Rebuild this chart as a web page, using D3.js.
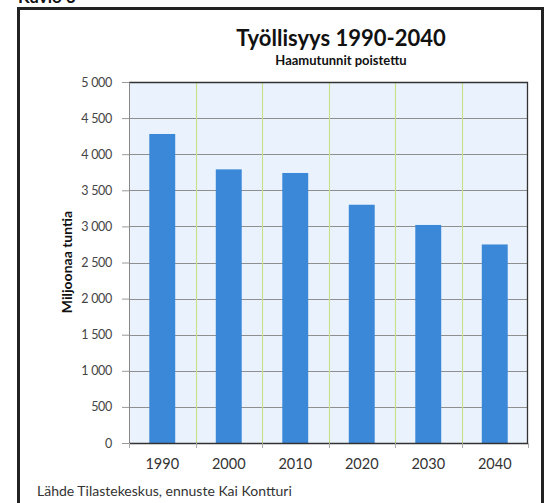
<!DOCTYPE html>
<html><head><meta charset="utf-8">
<script src="https://cdn.jsdelivr.net/npm/d3@7"></script>
<style>html,body{margin:0;padding:0;background:#fff;}svg{display:block;font-family:Lato,"Open Sans","Liberation Sans",sans-serif;}</style>
</head><body>
<svg id="c" width="556" height="503"></svg>
<script>
const categories = ["1990","2000","2010","2020","2030","2040"];
const values = [4280, 3790, 3740, 3300, 3020, 2750];
const yTicks = [0,500,1000,1500,2000,2500,3000,3500,4000,4500,5000];
const title = "Työllisyys 1990-2040";
const subtitle = "Haamutunnit poistettu";
const yTitle = "Miljoonaa tuntia";
const source = "Lähde Tilastekeskus, ennuste Kai Kontturi";

const svg = d3.select("#c");
const m = {l:129, r:528, t:82, b:443};
const x = d3.scaleBand().domain(categories).range([m.l, m.r]).paddingInner(0.61).paddingOuter(0.305);
const xb = d3.scaleBand().domain(categories).range([m.l, m.r]);
const y = d3.scaleLinear().domain([0,5000]).range([m.b, m.t]);
const fmt = v => d3.format(",")(v).replace(/,/g, "\u00a0");

// partial heading cut at top
svg.append("text").attr("x",18).attr("y",3).attr("font-size",17).attr("font-weight","bold").attr("fill","#111").text("Kuvio 3");

// frame
svg.append("rect").attr("x",18.5).attr("y",8.5).attr("width",524).attr("height",500).attr("fill","none").attr("stroke","#222").attr("stroke-width",3);

// plot bg
svg.append("rect").attr("x",m.l).attr("y",m.t).attr("width",m.r-m.l).attr("height",m.b-m.t).attr("fill","#eaf3fd");

// horizontal grid
svg.append("g").selectAll("line").data(yTicks.filter(d=>d>0 && d<5000)).join("line")
  .attr("x1",m.l).attr("x2",m.r).attr("y1",d=>Math.round(y(d))+0.5).attr("y2",d=>Math.round(y(d))+0.5)
  .attr("stroke","#8f8f8f").attr("stroke-width",1);
// vertical green grid
svg.append("g").selectAll("line").data(categories.slice(1)).join("line")
  .attr("x1",d=>Math.round(xb(d))+0.5).attr("x2",d=>Math.round(xb(d))+0.5).attr("y1",m.t).attr("y2",m.b)
  .attr("stroke","#c9e08f").attr("stroke-width",1.2);

// bars
svg.append("g").selectAll("rect").data(values).join("rect")
  .attr("x",(d,i)=>x(categories[i])).attr("width",x.bandwidth())
  .attr("y",d=>y(d)).attr("height",d=>m.b-y(d)).attr("fill","#3b88d9");

// plot border top/right
svg.append("path").attr("d",`M${m.l},${m.t+0.5}H${m.r-0.5}V${m.b}`).attr("fill","none").attr("stroke","#333").attr("stroke-width",1.3);

// y axis
const ya = d3.axisLeft(y).tickValues(yTicks).tickFormat(fmt).tickSize(7).tickPadding(10);
const gy = svg.append("g").attr("transform",`translate(${m.l},0)`).call(ya);
gy.select(".domain").attr("stroke","#888");
gy.selectAll(".tick line").attr("stroke","#999");
gy.selectAll("text").attr("font-size",12.5).attr("fill","#444").attr("letter-spacing",-0.3).attr("font-family","Lato,'Open Sans',sans-serif");

// x axis
const xa = d3.axisBottom(xb).tickSize(0).tickPadding(16);
const gx = svg.append("g").attr("transform",`translate(0,${m.b})`).call(xa);
gx.select(".domain").remove();
svg.append("line").attr("x1",m.l).attr("x2",m.r).attr("y1",m.b+0.5).attr("y2",m.b+0.5).attr("stroke","#333").attr("stroke-width",1.5);
gx.selectAll("text").attr("font-size",14.5).attr("fill","#333").attr("font-family","Lato,'Open Sans',sans-serif");
// small x tick marks at boundaries
svg.append("g").selectAll("line").data(categories.map(c=>xb(c)).concat([m.r])).join("line")
  .attr("x1",d=>Math.round(d)+0.5).attr("x2",d=>Math.round(d)+0.5).attr("y1",m.b).attr("y2",m.b+5).attr("stroke","#aaa");

// titles
svg.append("text").attr("x",341).attr("y",46).attr("text-anchor","middle").attr("font-size",22).attr("font-weight","bold").attr("fill","#111").text(title);
svg.append("text").attr("x",341).attr("y",65).attr("text-anchor","middle").attr("font-size",13).attr("font-weight","bold").attr("fill","#111").text(subtitle);
svg.append("text").attr("transform","translate(72,262) rotate(-90)").attr("text-anchor","middle").attr("font-size",14).attr("font-weight","bold").attr("fill","#111").text(yTitle);
svg.append("text").attr("x",37).attr("y",496).attr("font-size",14).attr("fill","#333").text(source);
</script>
</body></html>
